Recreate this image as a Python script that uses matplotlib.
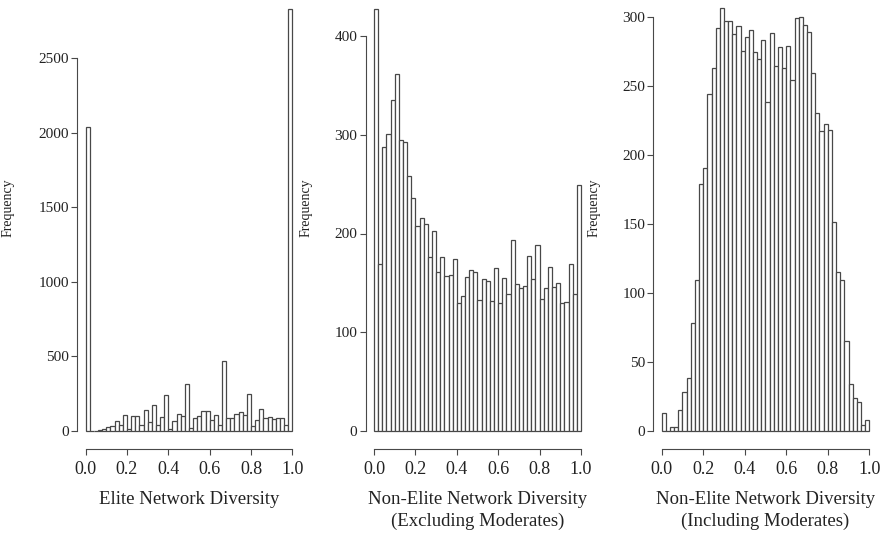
import numpy as np
import matplotlib
matplotlib.use("Agg")
import matplotlib.pyplot as plt

# counts per bin (50 bins of width 0.02 on [0, 1])
elite = [2040, 0, 3, 9, 16, 24, 36, 67, 42, 104,
         11, 98, 100, 42, 138, 60, 171, 42, 91, 238,
         11, 67, 116, 100, 318, 22, 89, 98, 136, 131,
         73, 107, 42, 467, 84, 84, 113, 127, 104, 249,
         36, 76, 149, 87, 96, 78, 89, 87, 42, 2826]

nonelite_excl = [427, 169, 288, 301, 335, 362, 295, 293, 258, 236,
                 208, 216, 210, 176, 203, 161, 176, 157, 158, 174,
                 130, 137, 156, 163, 161, 133, 154, 152, 132, 165,
                 130, 155, 139, 193, 149, 145, 147, 177, 154, 188,
                 134, 145, 166, 146, 150, 130, 131, 169, 139, 249]

nonelite_incl = [13, 0, 3, 3, 15, 28, 38, 78, 109, 179,
                 190, 244, 263, 292, 306, 297, 297, 287, 293, 275,
                 285, 290, 274, 269, 283, 238, 288, 264, 278, 263,
                 279, 254, 299, 300, 294, 289, 259, 230, 217, 222,
                 218, 151, 115, 109, 65, 34, 24, 21, 4, 8]

xlabels = ["Elite Network Diversity",
           "Non-Elite Network Diversity\n(Excluding Moderates)",
           "Non-Elite Network Diversity\n(Including Moderates)"]
xticks = [0.0, 0.2, 0.4, 0.6, 0.8, 1.0]
yticks = [np.arange(0, 2501, 500), np.arange(0, 401, 100), np.arange(0, 301, 50)]

plt.rcParams['font.family'] = ['Liberation Serif', 'DejaVu Serif']
txt = '#222222'
edge = '#484848'

fig = plt.figure(figsize=(8.87, 5.34), dpi=100)
W, H = 887.0, 534.0

# axes placement in pixels: (left, right), y-limits so that 0 sits at pixel 431
boxes = [(77.4, 300.6), (365.7, 589.3), (653.4, 877.6)]
scales = [0.1492, 0.9875, 1.3816]   # pixels per count
ylab_x = [15, 313, 601]

data = [elite, nonelite_excl, nonelite_incl]
edges = np.linspace(0, 1, 51)

for i, counts in enumerate(data):
    l, r = boxes[i]
    ax = fig.add_axes([l / W, (H - 448) / H, (r - l) / W, 448 / H])
    ax.bar(edges[:-1], counts, width=0.02, align='edge',
           facecolor='white', edgecolor=edge, linewidth=0.9)
    ax.set_xlim(-0.04, 1.04)
    s = scales[i]
    ax.set_ylim(-17 / s, 431 / s)

    for sp in ['top', 'right']:
        ax.spines[sp].set_visible(False)
    ax.spines['left'].set_bounds(0, yticks[i][-1])
    ax.spines['bottom'].set_bounds(0, 1)
    ax.spines['bottom'].set_position(('outward', 1))
    for sp in ['left', 'bottom']:
        ax.spines[sp].set_color(edge)
        ax.spines[sp].set_linewidth(0.8)

    ax.set_xticks(xticks)
    ax.set_xticklabels(["%.1f" % t for t in xticks])
    ax.set_yticks(yticks[i])
    ax.tick_params(axis='x', length=4, width=0.8, color=edge, labelsize=13,
                   labelcolor=txt, pad=4)
    ax.tick_params(axis='y', length=4, width=0.8, color=edge, labelsize=11,
                   labelcolor=txt, pad=2)

    ax.set_xlabel(xlabels[i], fontsize=13.5, color=txt, labelpad=10,
                  linespacing=1.3)
    ax.set_ylabel("Frequency", fontsize=10, color=txt)
    ax.yaxis.set_label_coords((ylab_x[i] - l) / (r - l), (448 - 208) / 448)

fig.savefig("out.png", dpi=100)
